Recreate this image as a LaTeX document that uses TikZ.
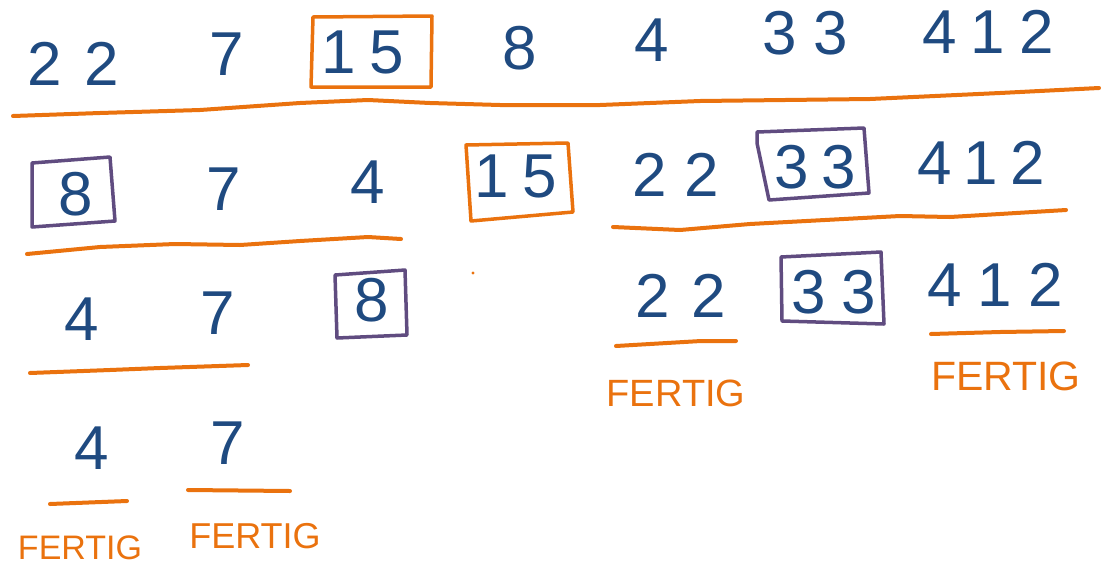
\documentclass[tikz,border=0pt]{standalone}
\usepackage{fontspec}
\setmainfont{Liberation Sans}
\definecolor{ink}{RGB}{31,74,128}
\definecolor{marker}{RGB}{234,114,14}
\definecolor{plum}{RGB}{96,76,128}
\newcommand{\gap}[1][18pt]{\kern#1}
\begin{document}
\begin{tikzpicture}[x=1pt,y=-1pt,
  num/.style={text=ink, inner sep=0pt, font=\fontsize{62}{62}\selectfont},
  done/.style={text=marker, inner sep=0pt, font=\fontsize{#1}{#1}\selectfont},
  done/.default=38,
  underline/.style={draw=marker, line width=4pt, line cap=round, line join=round},
  pivotbox/.style={draw=marker, line width=3.5pt, line cap=round, line join=round},
  subbox/.style={draw=plum, line width=3.5pt, line cap=round, line join=round}]
\path[use as bounding box] (0,0) rectangle (1102,568);

% ---- row 1: the whole list, pivot 15
\node[num] (r1a) at (73,64)  {2\gap[23pt]2};
\node[num] (r1b) at (227,54) {7};
\node[num] (r1c) at (363,52) {1\gap[14pt]5};
\node[num] (r1d) at (520,48) {8};
\node[num] (r1e) at (652,40) {4};
\node[num] (r1f) at (805,33) {3\gap[17pt]3};
\node[num] (r1g) at (988,32) {4\gap[14pt]1\gap[14pt]2};
\draw[pivotbox] (313,17) -- (432,16) -- (431,87) -- (311,87) -- cycle;
\draw[underline] (13,116) -- (100,113) -- (200,110) -- (300,103) -- (368,100)
  -- (430,103) -- (500,105) -- (600,105) -- (700,101) -- (870,99)
  -- (1000,93) -- (1099,88);

% ---- row 2: split around 15, new pivots 8 and 33
\node[num] (r2a) at (76,194)  {8};
\node[num] (r2b) at (224,189) {7};
\node[num] (r2c) at (368,182) {4};
\node[num] (r2d) at (516,176) {1\gap[14pt]5};
\node[num] (r2e) at (676,175) {2\gap[18pt]2};
\node[num] (r2f) at (815,167) {3\gap[13pt]3};
\node[num] (r2g) at (981,163) {4\gap[12pt]1\gap[12pt]2};
\draw[subbox] (32,163) -- (110,157) -- (115,221) -- (32,227) -- cycle;
\draw[pivotbox] (466,145) -- (568,143) -- (573,212) -- (471,221) -- cycle;
\draw[subbox] (757,143) -- (757,132) -- (864,128) -- (869,193) -- (769,200) -- cycle;
\draw[underline] (27,254) -- (100,247) -- (175,244) -- (240,245) -- (300,241)
  -- (368,237) -- (401,239);
\draw[underline] (613,227) -- (680,230) -- (750,224) -- (900,216) -- (950,217)
  -- (1066,210);
\fill[marker] (473,273) circle (1.6);

% ---- row 3
\node[num] (r3a) at (82,319)  {4};
\node[num] (r3b) at (218,313) {7};
\node[num] (r3c) at (372,300) {8};
\node[num] (r3d) at (681,296) {2\gap[22pt]2};
\node[num] (r3e) at (834,292) {3\gap[16pt]3};
\node[num] (r3f) at (995,285) {4\gap[16pt]1\gap[16pt]2};
\draw[subbox] (335,275) -- (405,270) -- (407,335) -- (337,338) -- cycle;
\draw[subbox] (781,257) -- (881,252) -- (884,324) -- (782,321) -- cycle;
\draw[underline] (30,373) -- (110,370) -- (160,368) -- (248,365);
\draw[underline] (616,346) -- (701,341) -- (736,341);
\draw[underline] (931,334) -- (1000,332) -- (1064,331);
\node[done=38] (f3) at (676,393) {FERTIG};
\node[done=41] (f4) at (1006,376) {FERTIG};

% ---- row 4
\node[num] (r4a) at (92,448)  {4};
\node[num] (r4b) at (228,443) {7};
\draw[underline] (50,504) -- (127,501);
\draw[underline] (188,490) -- (290,491);
\node[done=34] (f1) at (80,548)  {FERTIG};
\node[done=36] (f2) at (255,536) {FERTIG};
\end{tikzpicture}
\end{document}
